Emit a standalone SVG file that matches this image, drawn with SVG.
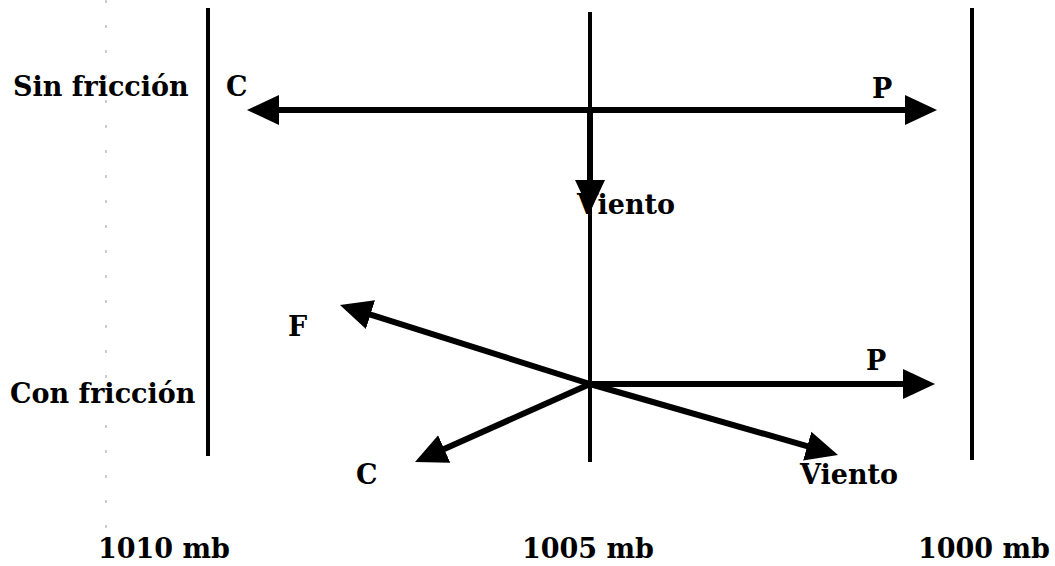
<svg xmlns="http://www.w3.org/2000/svg" width="1055" height="566" viewBox="0 0 1055 566">
<style>
  text { font-family: "DejaVu Serif", "Liberation Serif", serif; font-size: 27px; font-weight: bold; fill: #000; }
  .iso { stroke: #000; stroke-width: 4; fill: none; }
  .vec { stroke: #000; stroke-width: 6; fill: none; }
</style>
<defs>
  <marker id="ah" markerUnits="userSpaceOnUse" markerWidth="34" markerHeight="32" refX="24" refY="16" orient="auto-start-reverse">
    <path d="M0,1 L32,16 L0,31 Z" fill="#000"/>
  </marker>
</defs>
<rect width="1055" height="566" fill="#fff"/>
<line x1="106" y1="0" x2="106" y2="566" stroke="#999" stroke-width="1" stroke-dasharray="3,22"/>
<g id="isobars">
  <g id="isobar-1010"><line class="iso" x1="208" y1="8" x2="208" y2="456"/><text x="98" y="558">1010 mb</text></g>
  <g id="isobar-1005"><line class="iso" x1="590" y1="12" x2="590" y2="462" stroke-width="3"/><text x="522" y="558">1005 mb</text></g>
  <g id="isobar-1000"><line class="iso" x1="972" y1="8" x2="972" y2="460"/><text x="918" y="558">1000 mb</text></g>
</g>
<g id="labels">
  <text id="sin" x="13" y="96">Sin fricción</text>
  <text id="con" x="10" y="403">Con fricción</text>
</g>
<g id="connectors">
  <line class="vec" x1="255" y1="110" x2="929" y2="110" marker-start="url(#ah)" marker-end="url(#ah)"/>
  <line class="vec" x1="590" y1="110" x2="590" y2="204" stroke-width="3.5" marker-end="url(#ah)"/>
  <line class="vec" x1="590" y1="384" x2="347.6" y2="307.4" marker-end="url(#ah)"/>
  <line class="vec" x1="590" y1="384" x2="927" y2="384" marker-end="url(#ah)"/>
  <line class="vec" x1="590" y1="384" x2="422.3" y2="458.7" marker-end="url(#ah)"/>
  <line class="vec" x1="590" y1="384" x2="830.3" y2="452.8" marker-end="url(#ah)"/>
</g>
<g id="vector-labels">
  <text x="226" y="96">C</text>
  <text x="872" y="98">P</text>
  <text x="577" y="214">Viento</text>
  <text x="288" y="336">F</text>
  <text x="866" y="370">P</text>
  <text x="356" y="484">C</text>
  <text x="800" y="484">Viento</text>
</g>
</svg>
